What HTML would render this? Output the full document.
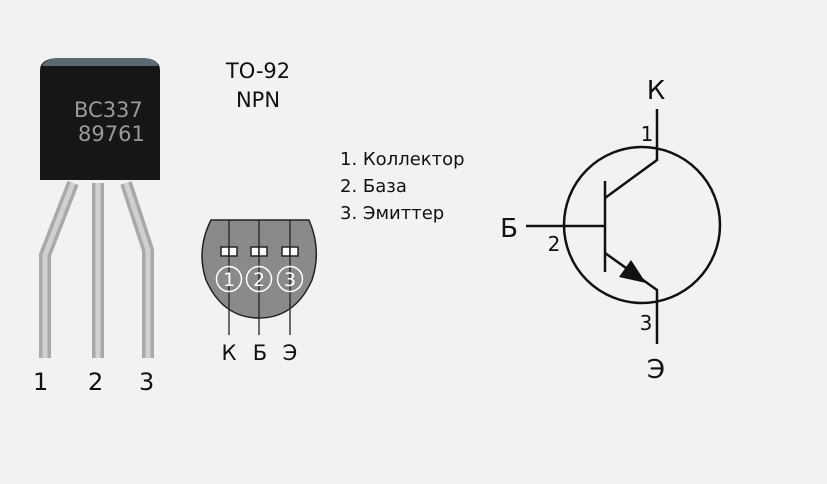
<!DOCTYPE html>
<html><head><meta charset="utf-8"><style>
html,body{margin:0;padding:0;background:#f2f2f2;}
svg{display:block}
text{font-family:"DejaVu Sans","Liberation Sans",sans-serif;fill:#111}
</style></head><body>
<svg width="827" height="484" viewBox="0 0 827 484" xmlns="http://www.w3.org/2000/svg">
<rect width="827" height="484" fill="#f2f2f2"/>
<g stroke-linejoin="round" fill="none" stroke-linecap="butt">
<polyline points="73,183 45,255 45,358" stroke="#a9a9a9" stroke-width="12"/>
<polyline points="73,183 45,255 45,358" stroke="#d0d0d0" stroke-width="5"/>
<polyline points="98,183 98,358" stroke="#a9a9a9" stroke-width="12"/>
<polyline points="98,183 98,358" stroke="#d2d2d2" stroke-width="5"/>
<polyline points="126,183 148,250 148,358" stroke="#a9a9a9" stroke-width="12"/>
<polyline points="126,183 148,250 148,358" stroke="#d0d0d0" stroke-width="5"/>
</g>
<path d="M40,180 L40,70 Q40,58 60,58 L140,58 Q160,58 160,70 L160,180 Z" fill="#161616"/>
<path d="M42,66 Q45,58 62,58 L140,58 Q158,58 158,66 Z" fill="#5a6a70"/>
<text x="74" y="117" font-size="21" style="fill:#9a9a9a">BC337</text>
<text x="78" y="141" font-size="21" style="fill:#9a9a9a">89761</text>
<text x="33" y="390" font-size="24">1</text>
<text x="88" y="390" font-size="24">2</text>
<text x="139" y="390" font-size="24">3</text>
<text x="258" y="78" font-size="21" text-anchor="middle">TO-92</text>
<text x="258" y="107" font-size="21" text-anchor="middle">NPN</text>
<path d="M211,220 L309,220 Q322,250 312,280 Q295,318 259,318 Q223,318 206,280 Q196,250 211,220 Z" fill="#8a8a8a" stroke="#222" stroke-width="1.5"/>
<g stroke="#222" stroke-width="1.3">
<line x1="229" y1="220" x2="229" y2="335"/>
<line x1="259" y1="220" x2="259" y2="335"/>
<line x1="290" y1="220" x2="290" y2="335"/>
</g>
<g fill="#fff" stroke="#222" stroke-width="1.5">
<rect x="221" y="247" width="8" height="9"/><rect x="229" y="247" width="8" height="9"/>
<rect x="251" y="247" width="8" height="9"/><rect x="259" y="247" width="8" height="9"/>
<rect x="282" y="247" width="8" height="9"/><rect x="290" y="247" width="8" height="9"/>
</g>
<g fill="none" stroke="#fff" stroke-width="1.5">
<circle cx="229" cy="279" r="12.5"/><circle cx="259" cy="279" r="12.5"/><circle cx="290" cy="279" r="12.5"/>
</g>
<g font-size="19" text-anchor="middle">
<text x="229" y="286" style="fill:#fff">1</text><text x="259" y="286" style="fill:#fff">2</text><text x="290" y="286" style="fill:#fff">3</text>
</g>
<text x="229" y="360" font-size="21" text-anchor="middle">К</text>
<text x="260" y="360" font-size="21" text-anchor="middle">Б</text>
<text x="290" y="360" font-size="21" text-anchor="middle">Э</text>
<text x="340" y="165" font-size="18">1. Коллектор</text>
<text x="340" y="192" font-size="18">2. База</text>
<text x="340" y="219" font-size="18">3. Эмиттер</text>
<g stroke="#111" stroke-width="2.5" fill="none">
<circle cx="642" cy="225" r="78"/>
<polyline points="657,109 657,160 605,198"/>
<line x1="605" y1="181" x2="605" y2="272"/>
<line x1="526" y1="226" x2="605" y2="226"/>
<polyline points="605,253 657,290 657,344"/>
</g>
<polygon points="646,283 619,277 631,260" fill="#111"/>
<text x="656" y="99" font-size="26" text-anchor="middle">К</text>
<text x="647" y="141" font-size="20" text-anchor="middle">1</text>
<text x="509" y="237" font-size="26" text-anchor="middle">Б</text>
<text x="554" y="251" font-size="20" text-anchor="middle">2</text>
<text x="646" y="330" font-size="20" text-anchor="middle">3</text>
<text x="656" y="378" font-size="26" text-anchor="middle">Э</text>
</svg>
</body></html>
